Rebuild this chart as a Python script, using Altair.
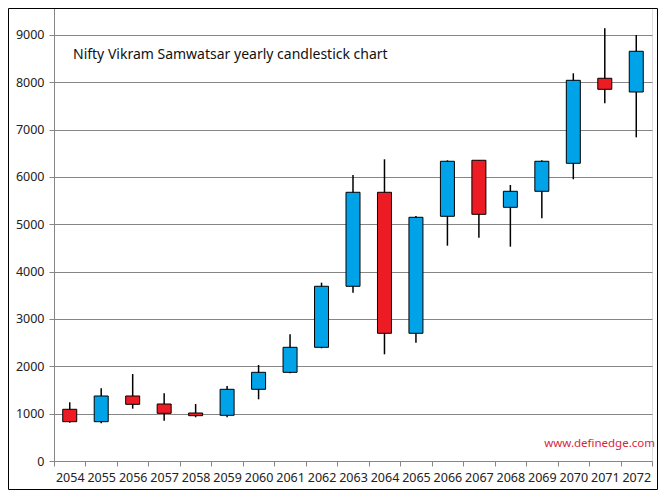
import altair as alt
import pandas as pd

years = [str(y) for y in range(2054, 2073)]
opens = [1092, 830, 1373, 1204, 1014, 965, 1514, 1873, 2401, 3690, 5675, 2697, 5168, 6351, 5358, 5696, 6287, 8083, 7793]
closes = [830, 1373, 1197, 1007, 957, 1514, 1873, 2401, 3690, 5675, 2697, 5147, 6330, 5210, 5696, 6330, 8040, 7850, 8653]
highs = [1240, 1535, 1837, 1430, 1204, 1584, 2028, 2676, 3766, 6040, 6372, 5174, 6350, 6351, 5829, 6350, 8188, 9139, 8997]
lows = [809, 796, 1105, 851, 923, 923, 1303, 1852, 2380, 3555, 2253, 2499, 4547, 4716, 4526, 5126, 5950, 7555, 6836]
y_ticks = [0, 1000, 2000, 3000, 4000, 5000, 6000, 7000, 8000, 9000]

title_text = "Nifty Vikram Samwatsar yearly candlestick chart"
credit_text = "www.definedge.com"

df = pd.DataFrame({"year": years, "open": opens, "close": closes, "high": highs, "low": lows})
df["dir"] = ["up" if c >= o else "down" for o, c in zip(opens, closes)]

W, H = 598, 453
FONT = "Noto Sans"

x_enc = alt.X(
    "year:O",
    title=None,
    scale=alt.Scale(paddingInner=0, paddingOuter=0),
    axis=alt.Axis(
        labelAngle=0, tickBand="extent", domainColor="#868686", tickColor="#868686",
        tickSize=5, labelPadding=5, labelFont=FONT, labelFontSize=12.5, labelColor="#222",
        grid=False,
    ),
)
y_scale = alt.Scale(domain=[0, 9567], nice=False, zero=True)
y_axis = alt.Axis(
    values=y_ticks, format="d", grid=True, gridColor="#868686", gridWidth=1, domainColor="#868686",
    tickColor="#868686", tickSize=5, labelPadding=5, labelFont=FONT, labelFontSize=12.5,
    labelColor="#222", title=None,
)

base = alt.Chart(df)

wicks = base.mark_rule(color="black", strokeWidth=1.5).encode(
    x=x_enc,
    y=alt.Y("low:Q", scale=y_scale, axis=y_axis),
    y2="high:Q",
)

bodies = base.mark_bar(size=14, stroke="black", strokeWidth=1).encode(
    x=x_enc,
    y=alt.Y("open:Q", scale=y_scale, axis=y_axis),
    y2="close:Q",
    color=alt.Color("dir:N", scale=alt.Scale(domain=["up", "down"], range=["#00A2E8", "#ED1C24"]), legend=None),
)

one = alt.Data(values=[{"a": 1}])

title_mark = alt.Chart(one).mark_text(
    text=title_text, font=FONT, fontSize=14, color="#111", align="left", baseline="middle"
).encode(x=alt.value(19), y=alt.value(47))

credit_mark = alt.Chart(one).mark_text(
    text=credit_text, font=FONT, fontSize=11.5, color="#D7263D", align="right", baseline="middle"
).encode(x=alt.value(601), y=alt.value(436))

border = alt.Chart(one).mark_rect(fill="transparent", stroke="black", strokeWidth=1).encode(
    x=alt.value(-45.5), x2=alt.value(603.5), y=alt.value(0.5), y2=alt.value(28.5 + H)
)

chart = alt.layer(wicks, bodies, title_mark, credit_mark, border).properties(
    width=W, height=H,
    autosize=alt.AutoSizeParams(type="none"),
    padding={"left": 46, "top": 0, "right": 6, "bottom": 30},
).configure_view(stroke=None).configure(background="white")

chart.save("out.html", embed_options={"renderer": "svg", "actions": False})
